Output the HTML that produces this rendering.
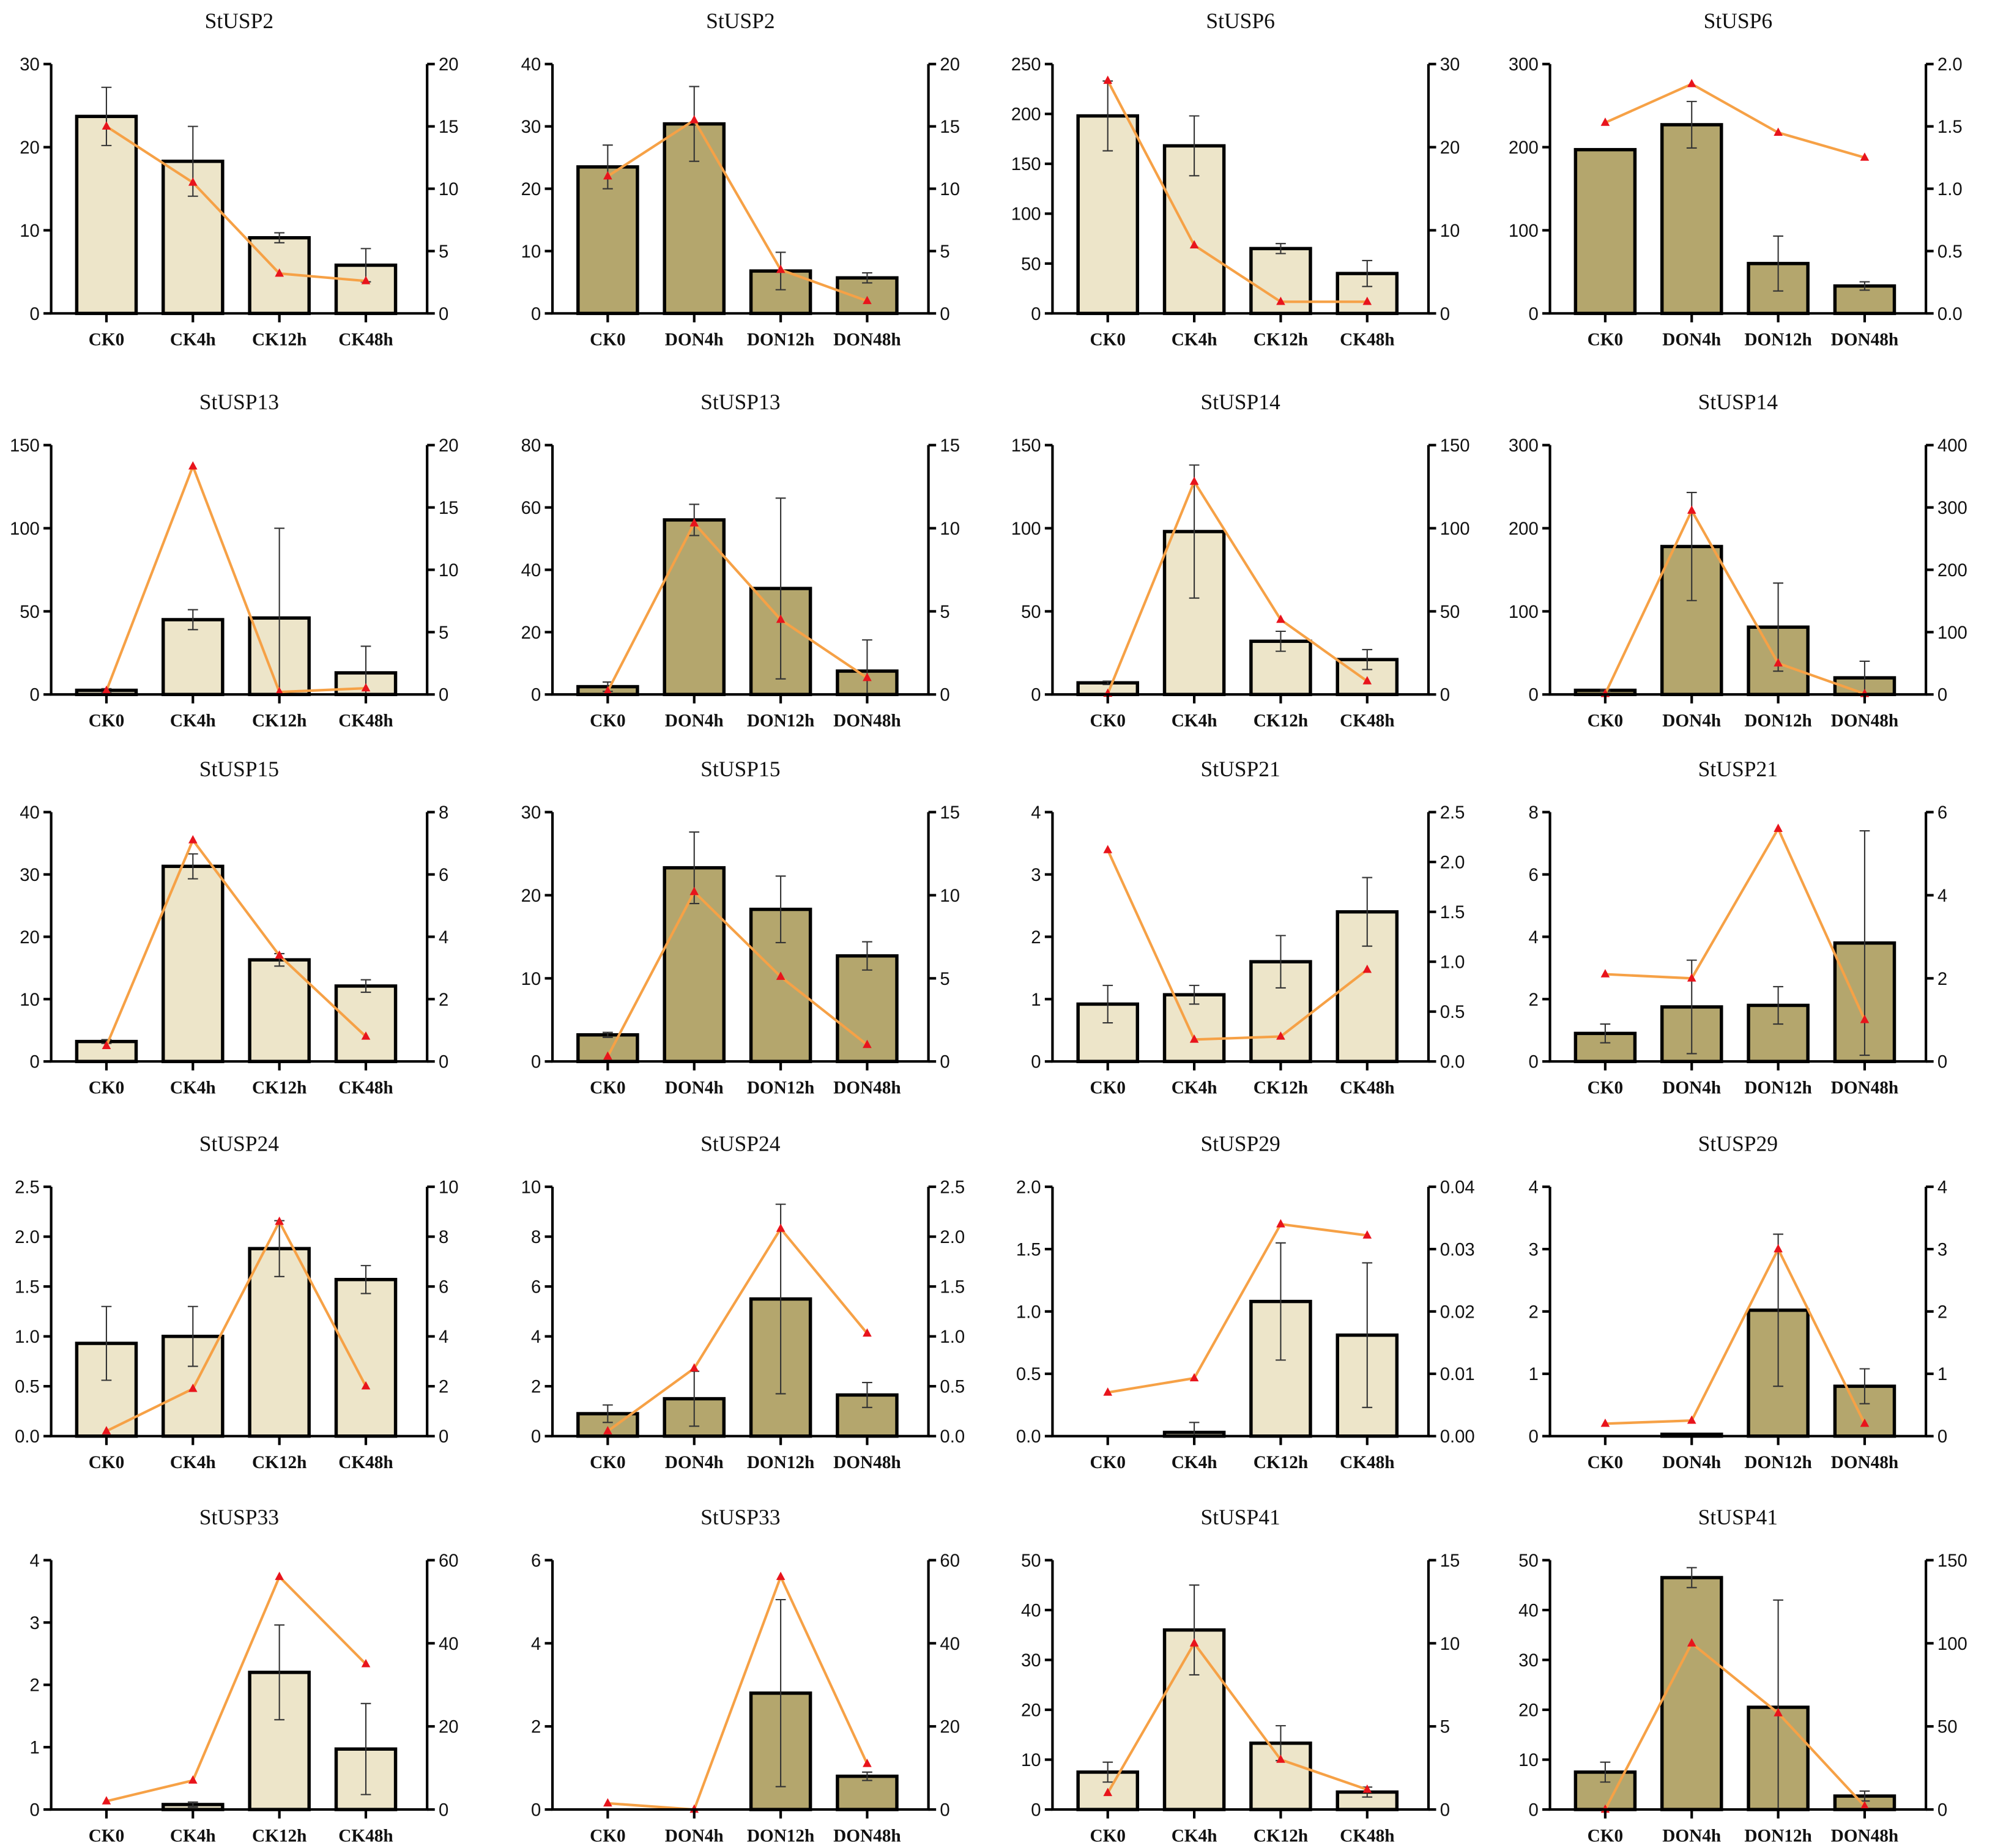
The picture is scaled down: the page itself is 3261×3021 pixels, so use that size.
<!DOCTYPE html>
<html><head><meta charset="utf-8">
<style>
html,body{margin:0;padding:0;background:#fff;}
svg{display:block;}
.tk{font-family:"Liberation Sans",sans-serif;font-size:14px;fill:#111;}
.xl{font-family:"Liberation Serif",serif;font-size:14px;font-weight:bold;fill:#111;}
.tt{font-family:"Liberation Serif",serif;font-size:17px;fill:#111;}
</style></head>
<body>
<svg id="chart" width="3261" height="3021" viewBox="0 0 1560 1445" xmlns="http://www.w3.org/2000/svg"></svg>
<script>
const titles = ["StUSP2","StUSP2","StUSP6","StUSP6","StUSP13","StUSP13","StUSP14","StUSP14","StUSP15","StUSP15","StUSP21","StUSP21","StUSP24","StUSP24","StUSP29","StUSP29","StUSP33","StUSP33","StUSP41","StUSP41"];
const ckCats = ["CK0","CK4h","CK12h","CK48h"];
const donCats = ["CK0","DON4h","DON12h","DON48h"];
const leftMax = [30,40,250,300,150,80,150,300,40,30,4,8,2.5,10,2.0,4,4,6,50,50];
const leftStep = [10,10,50,100,50,20,50,100,10,10,1,2,0.5,2,0.5,1,1,2,10,10];
const rightMax = [20,20,30,2.0,20,15,150,400,8,15,2.5,6,10,2.5,0.04,4,60,60,15,150];
const rightStep = [5,5,10,0.5,5,5,50,100,2,5,0.5,2,2,0.5,0.01,1,20,20,5,50];
const barValues = [
[23.7,18.3,9.1,5.8],[23.5,30.4,6.8,5.7],[198,168,65,40],[197,227,60,33],
[2.5,45,46,13],[2.5,56,34,7.5],[7,98,32,21],[5,178,81,20],
[3.2,31.3,16.3,12.1],[3.2,23.3,18.3,12.7],[0.92,1.07,1.6,2.4],[0.9,1.75,1.8,3.8],
[0.93,1.0,1.88,1.57],[0.9,1.5,5.5,1.65],[0,0.03,1.08,0.81],[0,0.03,2.02,0.8],
[0,0.08,2.2,0.97],[0,0,2.8,0.8],[7.5,36,13.3,3.5],[7.5,46.5,20.5,2.7]];
const errValues = [
[3.5,4.2,0.6,2],[3.5,6,3,0.8],[35,30,5,13],[0,28,33,5],
[1,6,54,16],[1.5,5,29,10],[1,40,6,6],[1,65,53,20],
[0.3,2,1,1],[0.3,4.3,4,1.7],[0.3,0.15,0.42,0.55],[0.3,1.5,0.6,3.6],
[0.37,0.3,0.28,0.14],[0.35,1.1,3.8,0.5],[0,0.08,0.47,0.58],[0,0,1.22,0.28],
[0,0.04,0.76,0.73],[0,0,2.25,0.1],[2,9,3.5,1],[2,2,21.5,1]];
const lineValues = [
[15,10.5,3.2,2.6],[11,15.5,3.5,1],[28,8.2,1.4,1.4],[1.53,1.84,1.45,1.25],
[0.3,18.3,0.2,0.5],[0.2,10.3,4.5,1],[0.5,128,45,8],[1,295,50,1],
[0.5,7.1,3.4,0.8],[0.3,10.2,5.1,1],[2.12,0.22,0.25,0.92],[2.1,2,5.6,1],
[0.2,1.9,8.6,2],[0.05,0.68,2.08,1.03],[0.007,0.0093,0.034,0.0322],[0.2,0.25,3,0.2],
[2,7,56,35],[1.5,0,56,11],[1,10,3,1.2],[0,100,58,2]];

const NS="http://www.w3.org/2000/svg";
const svg=document.getElementById('chart');
const colL=[40,432,823,1212], colW=294;
const rowT=[50,348,635,928,1220], plotH=195;
function mk(tag,attrs,parent){const e=document.createElementNS(NS,tag);for(const k in attrs)e.setAttribute(k,attrs[k]);(parent||svg).appendChild(e);return e;}
function fmt(v,step){const d=step<0.1?2:(step<1?1:0);return v.toFixed(d);}

for(let p=0;p<20;p++){
  const r=Math.floor(p/4), c=p%4, isDon=c%2===1;
  const L=colL[c], R=L+colW, T=rowT[r], B=T+plotH;
  const g=mk('g',{});
  
  
  const yL=v=>B-v/leftMax[p]*plotH, yR=v=>B-v/rightMax[p]*plotH;
  const xC=i=>L+colW*(0.147+0.23*i);
  const bw=colW*0.158;
  const t=mk('text',{x:L+colW/2,y:T-28,'text-anchor':'middle',class:'tt'},g);t.textContent=titles[p];
  
  
  // bars
  const cats=isDon?donCats:ckCats;
  for(let i=0;i<4;i++){
    const v=barValues[p][i], y=yL(v);
    const b=mk('rect',{x:xC(i)-bw/2,y:y,width:bw,height:B-y,fill:isDon?'#b4a66d':'#ede5c9',stroke:'#000','stroke-width':2.6},g);
    
    
    const e=errValues[p][i];
    if(e>0){
      const y1=yL(Math.min(v+e,leftMax[p])), y2=yL(Math.max(v-e,0));
      const eb=mk('path',{d:`M${xC(i)},${y1}V${y2}M${xC(i)-4},${y1}H${xC(i)+4}M${xC(i)-4},${y2}H${xC(i)+4}`,stroke:'#333','stroke-width':1,fill:'none'},g);
      
      
    }
  }
  // line
  let d='';
  for(let i=0;i<4;i++)d+=(i?'L':'M')+xC(i)+','+yR(lineValues[p][i]);
  const ln=mk('path',{d:d,stroke:'#f6a146','stroke-width':2,fill:'none'},g);
  
  
  for(let i=0;i<4;i++){
    const x=xC(i),y=yR(lineValues[p][i]);
    const m=mk('path',{d:`M${x},${y-4}L${x+3.5},${y+2.5}L${x-3.5},${y+2.5}Z`,fill:'#e8141c'},g);
    
    
  }
  // axes
  const ax=mk('path',{d:`M${L},${T}V${B}H${R}V${T}`,stroke:'#000','stroke-width':2,fill:'none'},g);
  
  
  for(let v=0;v<=leftMax[p]+1e-9;v+=leftStep[p]){
    const y=yL(v);
    mk('line',{x1:L-6,x2:L,y1:y,y2:y,stroke:'#000','stroke-width':2},g);
    const tx=mk('text',{x:L-9,y:y+5,'text-anchor':'end',class:'tk'},g);tx.textContent=fmt(v,leftStep[p]);
    
    
  }
  for(let v=0;v<=rightMax[p]+1e-9;v+=rightStep[p]){
    const y=yR(v);
    mk('line',{x1:R,x2:R+6,y1:y,y2:y,stroke:'#000','stroke-width':2},g);
    const tx=mk('text',{x:R+9,y:y+5,'text-anchor':'start',class:'tk'},g);tx.textContent=fmt(v,rightStep[p]);
    
    
  }
  for(let i=0;i<4;i++){
    mk('line',{x1:xC(i),x2:xC(i),y1:B,y2:B+7,stroke:'#000','stroke-width':2},g);
    const tx=mk('text',{x:xC(i),y:B+25,'text-anchor':'middle',class:'xl'},g);tx.textContent=cats[i];
    
    
  }
}
</script>
</body></html>
